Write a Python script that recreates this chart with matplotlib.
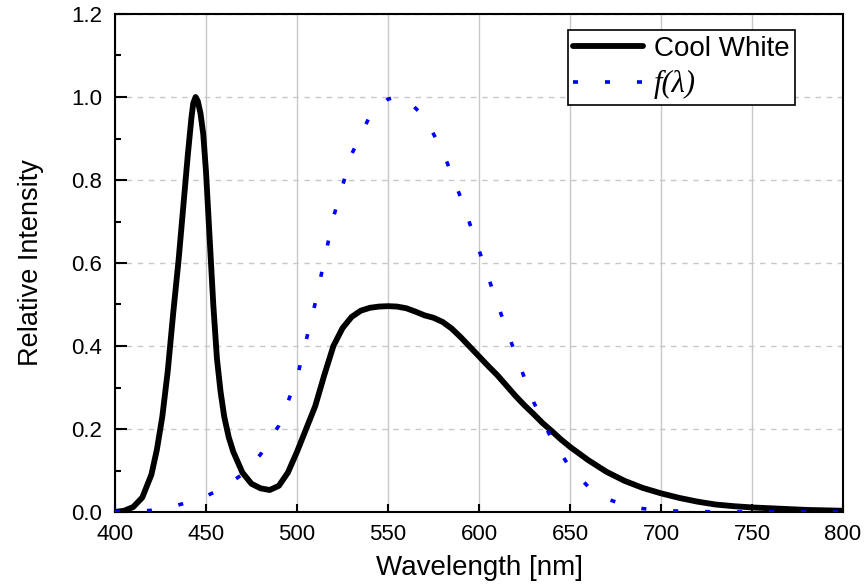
import matplotlib
matplotlib.use("Agg")
import matplotlib.pyplot as plt
from matplotlib.ticker import MultipleLocator, FormatStrFormatter

plt.rcParams['font.family'] = ['Liberation Sans', 'DejaVu Sans']

# Cool White LED spectrum
cw_wl = [400, 405, 410, 415, 420, 423, 426, 429, 432, 435, 438, 440, 442, 443, 444.3, 445.5,
         447, 448.5, 450, 452, 454, 456, 458, 460, 462.5, 465, 470, 475, 480, 485, 490,
         495, 500, 505, 510, 515, 520, 525, 530, 535, 540, 545, 550, 555, 560, 565, 570,
         575, 580, 585, 590, 595, 600, 605, 610, 615, 620, 625, 630, 635, 640, 645, 650,
         660, 670, 680, 690, 700, 710, 720, 730, 740, 750, 760, 770, 780, 790, 800]
cw_val = [0.0, 0.003, 0.012, 0.035, 0.09, 0.15, 0.23, 0.34, 0.48, 0.61, 0.76, 0.86, 0.95, 0.985, 1.0, 0.99,
          0.96, 0.91, 0.82, 0.66, 0.50, 0.37, 0.29, 0.23, 0.18, 0.145, 0.095, 0.068, 0.057, 0.053, 0.063,
          0.095, 0.145, 0.20, 0.255, 0.33, 0.40, 0.443, 0.470, 0.485, 0.492, 0.495, 0.496, 0.495, 0.491, 0.483, 0.474,
          0.468, 0.458, 0.442, 0.421, 0.398, 0.375, 0.352, 0.33, 0.305, 0.28, 0.257, 0.236, 0.214, 0.195, 0.175, 0.157,
          0.125, 0.097, 0.075, 0.058, 0.045, 0.034, 0.025, 0.018, 0.014, 0.011, 0.009, 0.007, 0.005, 0.004, 0.003]

# f(lambda): photopic luminosity function
f_wl = [400, 410, 420, 430, 440, 450, 460, 470, 480, 490, 500, 510, 520, 530, 540, 550, 555,
        560, 570, 580, 590, 600, 610, 620, 630, 640, 650, 660, 670, 680, 690, 700, 710, 720,
        730, 740, 750, 760, 770, 780, 790, 800]
f_val = [0.0004, 0.0012, 0.004, 0.0116, 0.023, 0.038, 0.060, 0.091, 0.139, 0.208, 0.323, 0.503,
         0.710, 0.862, 0.954, 0.995, 1.0, 0.995, 0.952, 0.870, 0.757, 0.631, 0.503, 0.381, 0.265,
         0.175, 0.107, 0.061, 0.032, 0.017, 0.0082, 0.0041, 0.0021, 0.00105, 0.00052, 0.00025,
         0.00012, 0.00006, 0.00003, 0.000015, 0.000007, 0.000003]

x_ticks = [400, 450, 500, 550, 600, 650, 700, 750, 800]
y_ticks = [0.0, 0.2, 0.4, 0.6, 0.8, 1.0, 1.2]

fig = plt.figure(figsize=(8.64, 5.84), dpi=100)
ax = fig.add_axes([115/864, 1-512/584, 728/864, 498/584])

ax.plot(cw_wl, cw_val, color='black', lw=4.2, label='Cool White', zorder=3,
        solid_joinstyle='round', solid_capstyle='round')
ax.plot(f_wl, f_val, color='#0000ff', lw=2.6, linestyle=(0, (1.4, 7.45)),
        label='f(λ)', zorder=4)

ax.set_xlim(400, 800)
ax.set_ylim(0, 1.2)
ax.set_xticks(x_ticks)
ax.set_yticks(y_ticks)
ax.yaxis.set_minor_locator(MultipleLocator(0.1))
ax.yaxis.set_major_formatter(FormatStrFormatter('%.1f'))

ax.xaxis.grid(True, color='#c8c8c8', lw=1.0, linestyle='-')
ax.yaxis.grid(True, color='#c8c8c8', lw=1.0, linestyle=(0, (4, 4)))
ax.set_axisbelow(True)

ax.tick_params(axis='both', which='major', direction='in', labelsize=16, width=1.5)
ax.tick_params(axis='x', which='major', length=6, pad=9)
ax.tick_params(axis='y', which='major', length=8.5, pad=9)
ax.tick_params(axis='y', which='minor', direction='in', length=4.5, width=1.5)
for s in ax.spines.values():
    s.set_linewidth(1.5)

ax.set_xlabel('Wavelength [nm]', fontsize=20, labelpad=7)
ax.set_ylabel('Relative Intensity', fontsize=19.5, labelpad=20)

leg = ax.legend(loc='upper right', bbox_to_anchor=((795-115)/728, (512-30)/498),
                borderaxespad=0, fancybox=False, edgecolor='black', framealpha=1,
                fontsize=20, handlelength=2.5, handletextpad=0.4, labelspacing=0.3,
                borderpad=0.2)
leg.get_frame().set_linewidth(1.2)
t = leg.get_texts()[1]
t.set_fontfamily(['Liberation Serif', 'DejaVu Serif'])
t.set_fontstyle('italic')
t.set_fontsize(22)

fig.savefig('out.png', dpi=100)
